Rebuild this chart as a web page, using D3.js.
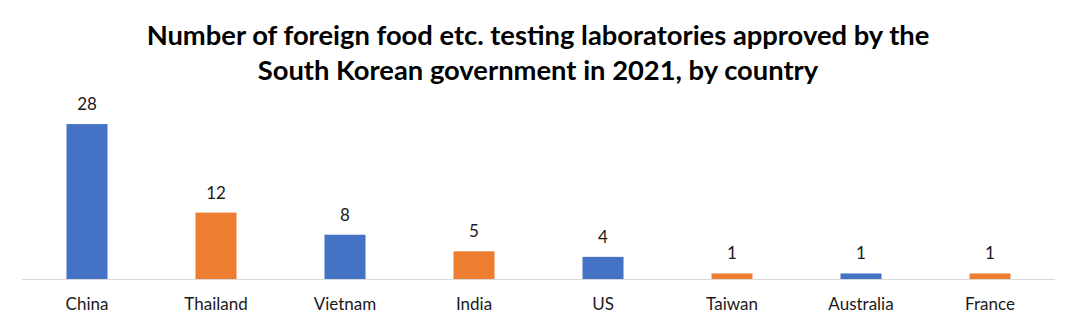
<!DOCTYPE html>
<html><head><meta charset="utf-8">
<script src="https://cdn.jsdelivr.net/npm/d3@7"></script>
<style>body{margin:0;background:#fff}svg{display:block}</style>
</head><body>
<svg id="c" width="1077" height="327"></svg>
<script>
const categories = ["China","Thailand","Vietnam","India","US","Taiwan","Australia","France"];
const values = [28,12,8,5,4,1,1,1];
const colors = ["#4472C4","#ED7D31"];
const titleLines = ["Number of foreign food etc. testing laboratories approved by the","South Korean government in 2021, by country"];

const svg = d3.select("#c");
const x = d3.scaleBand().domain(categories).range([22.5, 1054.5]).paddingInner(0.682).paddingOuter(0.341);
const y = d3.scaleLinear().domain([0, 30]).range([279, 113]);
const font = "Lato, 'Open Sans', sans-serif";

// title
const title = svg.append("g");
titleLines.forEach((t, i) => {
  title.append("text").attr("x", 538).attr("y", 45 + i * 35)
    .attr("text-anchor", "middle").attr("font-family", font)
    .attr("font-weight", "bold").attr("font-size", 24).attr("fill", "#000").text(t);
});
const w0 = title.select("text").node().getComputedTextLength();
title.selectAll("text").attr("font-size", 24 * 783 / w0);

// axis line
svg.append("line").attr("x1", 22).attr("x2", 1055).attr("y1", y(0) + 0.5).attr("y2", y(0) + 0.5)
  .attr("stroke", "#d9d9d9").attr("stroke-width", 1);

// bars
svg.selectAll("rect.bar").data(values).join("rect").attr("class", "bar")
  .attr("x", (d, i) => x(categories[i]))
  .attr("width", x.bandwidth())
  .attr("y", d => y(d))
  .attr("height", d => y(0) - y(d))
  .attr("fill", (d, i) => colors[i % 2]);

// value labels
svg.selectAll("text.val").data(values).join("text").attr("class", "val")
  .attr("x", (d, i) => x(categories[i]) + x.bandwidth() / 2)
  .attr("y", d => y(d) - 14)
  .attr("text-anchor", "middle").attr("font-family", font)
  .attr("font-size", 17).attr("fill", "#1a1a1a").text(d => d);

// category axis
const ax = svg.append("g").attr("transform", `translate(0,${y(0)})`)
  .call(d3.axisBottom(x).tickSize(0).tickPadding(19));
ax.select(".domain").remove();
ax.selectAll("text").attr("font-family", font).attr("font-size", 17).attr("fill", "#1a1a1a");
</script>
</body></html>
